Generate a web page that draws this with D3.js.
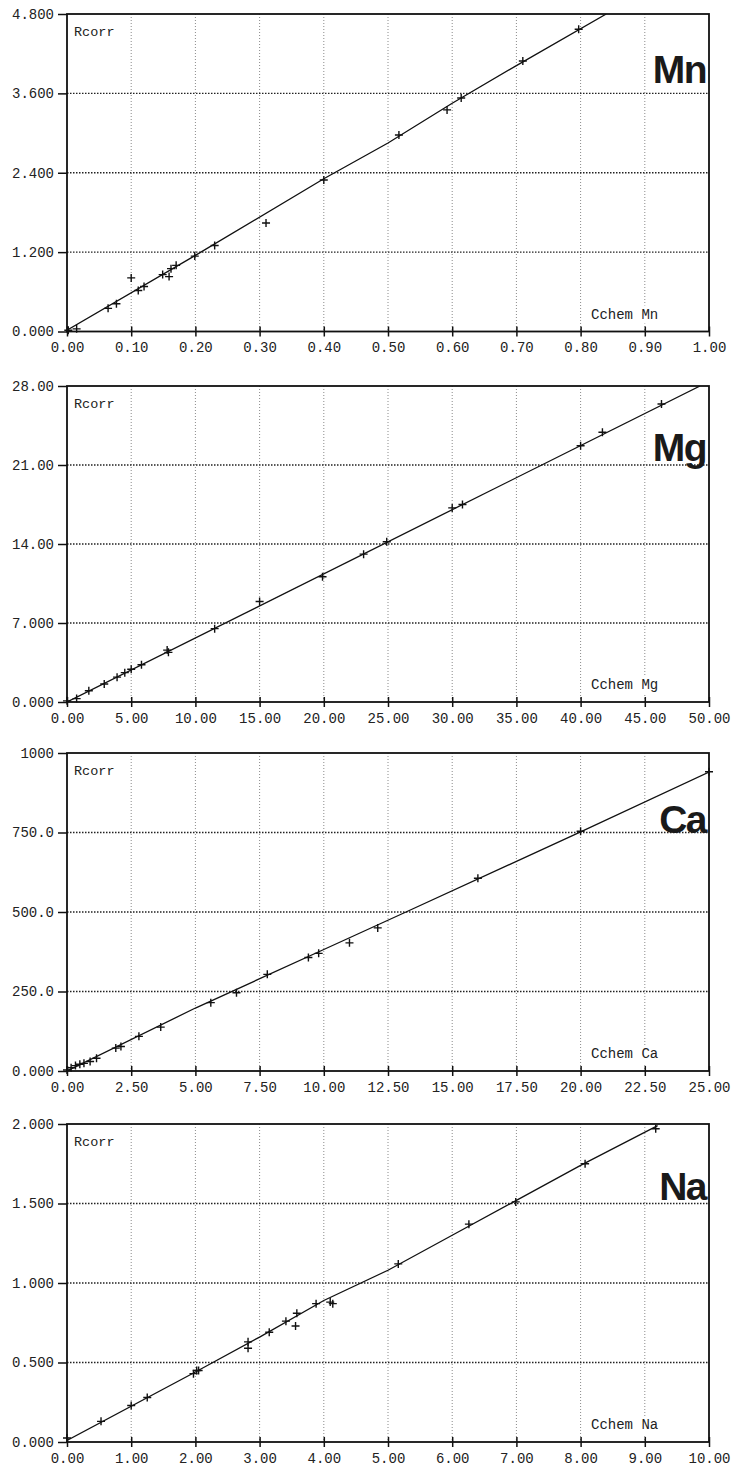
<!DOCTYPE html>
<html>
<head>
<meta charset="utf-8">
<script src="https://cdn.jsdelivr.net/npm/d3@7"></script>
<style>
  html, body { margin: 0; padding: 0; background: #fff; }
  svg { display: block; }
</style>
</head>
<body>
<svg id="chart" width="734" height="1471"></svg>
<script>
// ---------------- Data ----------------
// Mn
const mnX = [0.002, 0.015, 0.064, 0.077, 0.100, 0.111, 0.120, 0.149, 0.159, 0.162, 0.170, 0.199, 0.230, 0.310, 0.400, 0.517, 0.592, 0.614, 0.710, 0.797];
const mnY = [0.02, 0.04, 0.35, 0.42, 0.81, 0.62, 0.68, 0.86, 0.83, 0.95, 1.00, 1.14, 1.30, 1.64, 2.29, 2.97, 3.35, 3.53, 4.09, 4.57];
const mnLineX = [0, 0.2, 0.4, 0.5, 0.6, 0.7, 0.84];
const mnLineY = [0.02, 1.15, 2.31, 2.85, 3.45, 4.02, 4.8];
const mnXTicks = ["0.00","0.10","0.20","0.30","0.40","0.50","0.60","0.70","0.80","0.90","1.00"];
const mnYTicks = ["0.000","1.200","2.400","3.600","4.800"];

// Mg
const mgX = [0.0, 0.75, 1.7, 2.9, 3.9, 4.5, 5.0, 5.8, 7.8, 7.9, 11.5, 15.0, 19.9, 23.1, 24.9, 30.0, 30.8, 40.0, 41.7, 46.3];
const mgY = [0.1, 0.3, 1.0, 1.6, 2.2, 2.6, 2.9, 3.3, 4.6, 4.4, 6.5, 8.9, 11.1, 13.1, 14.2, 17.2, 17.5, 22.7, 23.9, 26.4];
const mgLineX = [0, 49.3];
const mgLineY = [0, 28];
const mgXTicks = ["0.00","5.00","10.00","15.00","20.00","25.00","30.00","35.00","40.00","45.00","50.00"];
const mgYTicks = ["0.000","7.000","14.00","21.00","28.00"];

// Ca
const caX = [0.0, 0.16, 0.33, 0.5, 0.66, 0.9, 1.15, 1.9, 2.1, 2.8, 3.65, 5.6, 6.6, 7.8, 9.4, 9.8, 11.0, 12.1, 16.0, 20.0, 25.0];
const caY = [3, 10, 17, 21, 24, 30, 40, 72, 77, 109, 138, 215, 246, 304, 357, 370, 403, 450, 606, 754, 941];
const caLineX = [0, 5, 10, 13.2, 20, 25];
const caLineY = [0, 198, 382, 500, 752, 940];
const caXTicks = ["0.00","2.50","5.00","7.50","10.00","12.50","15.00","17.50","20.00","22.50","25.00"];
const caYTicks = ["0.000","250.0","500.0","750.0","1000"];

// Na
const naX = [0.0, 0.53, 1.0, 1.25, 1.97, 2.02, 2.05, 2.82, 2.82, 3.15, 3.41, 3.56, 3.58, 3.88, 4.10, 4.14, 5.16, 6.26, 6.99, 8.07, 9.17];
const naY = [0.025, 0.13, 0.23, 0.28, 0.43, 0.45, 0.45, 0.63, 0.59, 0.69, 0.76, 0.73, 0.81, 0.87, 0.88, 0.87, 1.12, 1.37, 1.51, 1.75, 1.97];
const naLineX = [0, 2, 3, 4, 5, 6, 7, 8, 9.2];
const naLineY = [0.01, 0.44, 0.66, 0.89, 1.08, 1.30, 1.52, 1.74, 1.99];
const naXTicks = ["0.00","1.00","2.00","3.00","4.00","5.00","6.00","7.00","8.00","9.00","10.00"];
const naYTicks = ["0.000","0.500","1.000","1.500","2.000"];

const panels = [
  { el: "Mn", x: mnX, y: mnY, lx: mnLineX, ly: mnLineY, xt: mnXTicks, yt: mnYTicks },
  { el: "Mg", x: mgX, y: mgY, lx: mgLineX, ly: mgLineY, xt: mgXTicks, yt: mgYTicks },
  { el: "Ca", x: caX, y: caY, lx: caLineX, ly: caLineY, xt: caXTicks, yt: caYTicks },
  { el: "Na", x: naX, y: naY, lx: naLineX, ly: naLineY, xt: naXTicks, yt: naYTicks }
];

// ---------------- Layout ----------------
const plotLeft = 67, plotRight = 709;
const tops = [14, 386, 753, 1124];
const bottoms = [331.5, 702, 1071, 1442];
const elemBaseline = [69, 75, 80, 76];
const monoFont = "'Liberation Mono', 'DejaVu Sans Mono', monospace";

const svg = d3.select("#chart");

panels.forEach((p, i) => {
  const top = tops[i], bottom = bottoms[i];
  const xVals = p.xt.map(Number), yVals = p.yt.map(Number);
  const x = d3.scaleLinear().domain([xVals[0], xVals[xVals.length - 1]]).range([plotLeft, plotRight]);
  const y = d3.scaleLinear().domain([yVals[0], yVals[yVals.length - 1]]).range([bottom, top]);
  const g = svg.append("g");

  const clipId = "clip" + i;
  svg.append("clipPath").attr("id", clipId)
    .append("rect").attr("x", plotLeft).attr("y", top)
    .attr("width", plotRight - plotLeft).attr("height", bottom - top);

  // vertical grid (light dotted)
  g.selectAll(".vg").data(xVals.slice(1, -1)).enter().append("line")
    .attr("x1", d => x(d)).attr("x2", d => x(d))
    .attr("y1", top).attr("y2", bottom)
    .attr("stroke", "#8a8a8a").attr("stroke-width", 1)
    .attr("stroke-dasharray", "1,2");

  // horizontal grid (dark dotted)
  g.selectAll(".hg").data(yVals.slice(1, -1)).enter().append("line")
    .attr("x1", plotLeft).attr("x2", plotRight)
    .attr("y1", d => y(d)).attr("y2", d => y(d))
    .attr("stroke", "#222").attr("stroke-width", 1.4)
    .attr("stroke-dasharray", "1.5,1.5");

  // Cchem label with white background
  const cl = g.append("text")
    .attr("x", 591).attr("y", bottom - 13)
    .attr("font-family", monoFont).attr("font-size", 14)
    .attr("fill", "#222").text("Cchem " + p.el);
  const bb = cl.node().getBBox();
  g.insert("rect", "text").attr("x", bb.x - 2).attr("y", bb.y - 1)
    .attr("width", bb.width + 4).attr("height", bb.height + 2).attr("fill", "#fff");

  // Rcorr label
  g.append("text").attr("x", 74).attr("y", top + 22)
    .attr("font-family", monoFont).attr("font-size", 13.5)
    .attr("fill", "#222").text("Rcorr");

  // element label
  g.append("text").attr("x", 706).attr("y", top + elemBaseline[i])
    .attr("text-anchor", "end")
    .attr("font-family", "'Liberation Sans', Arial, Helvetica, sans-serif")
    .attr("font-weight", "bold").attr("font-size", 39)
    .attr("letter-spacing", -1.5)
    .attr("fill", "#1a1a1a").text(p.el);

  // fitted line
  const pts = p.lx.map((v, k) => [v, p.ly[k]]);
  g.append("path").datum(pts)
    .attr("clip-path", "url(#" + clipId + ")")
    .attr("d", d3.line().x(d => x(d[0])).y(d => y(d[1])))
    .attr("fill", "none").attr("stroke", "#111").attr("stroke-width", 1.3);

  // markers (+)
  const s = 4;
  g.selectAll(".pt").data(p.x.map((v, k) => [v, p.y[k]])).enter().append("path")
    .attr("d", d => {
      const cx = x(d[0]), cy = y(d[1]);
      return `M${cx - s},${cy}H${cx + s}M${cx},${cy - s}V${cy + s}`;
    })
    .attr("stroke", "#111").attr("stroke-width", 1.4).attr("fill", "none");

  // frame
  g.append("rect").attr("x", plotLeft).attr("y", top)
    .attr("width", plotRight - plotLeft).attr("height", bottom - top)
    .attr("fill", "none").attr("stroke", "#111").attr("stroke-width", 1.8);

  // y axis ticks (outside) and labels
  const yAxis = d3.axisLeft(y).tickValues(yVals).tickSize(9).tickPadding(4)
    .tickFormat((d, k) => p.yt[k]);
  const ya = g.append("g").attr("transform", `translate(${plotLeft},0)`).call(yAxis);
  ya.select(".domain").remove();
  ya.selectAll(".tick line").attr("stroke", "#111").attr("stroke-width", 1.5);
  ya.selectAll(".tick text").attr("font-family", monoFont).attr("font-size", 14).attr("fill", "#222");

  // x axis ticks (crossing) and labels
  const xAxis = d3.axisBottom(x).tickValues(xVals).tickSize(5).tickPadding(6)
    .tickFormat((d, k) => p.xt[k]);
  const xa = g.append("g").attr("transform", `translate(0,${bottom})`).call(xAxis);
  xa.select(".domain").remove();
  xa.selectAll(".tick line").attr("y1", -5).attr("stroke", "#111").attr("stroke-width", 1.5);
  xa.selectAll(".tick text").attr("font-family", monoFont).attr("font-size", 14).attr("fill", "#222");
});
</script>
</body>
</html>
